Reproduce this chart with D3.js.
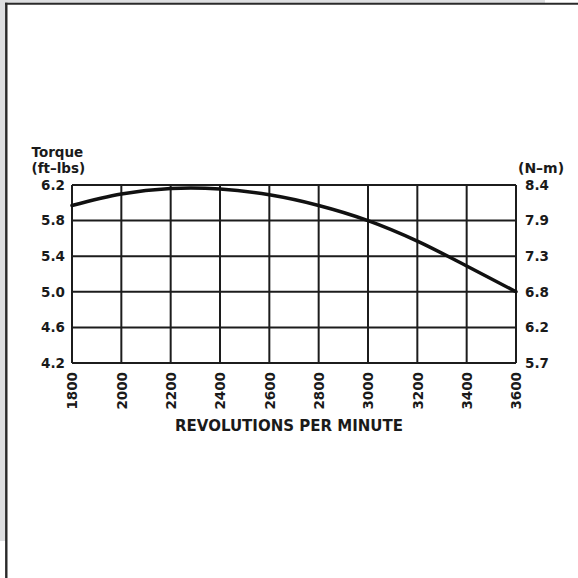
<!DOCTYPE html>
<html>
<head>
<meta charset="utf-8">
<style>
    html, body { margin: 0; padding: 0; background: #fff; }
    svg { display: block; }
    text { font-family: "DejaVu Sans", sans-serif; font-weight: bold; fill: #1a1a1a; }
</style>
</head>
<body>
<svg width="578" height="578"></svg>
<script src="https://cdnjs.cloudflare.com/ajax/libs/d3/7.8.5/d3.min.js"></script>
<script>

    // chart values
    var rpm = [1800, 2000, 2200, 2400, 2600, 2800, 3000, 3200, 3400, 3600];
    var torque = [5.97, 6.10, 6.16, 6.155, 6.09, 5.97, 5.80, 5.57, 5.29, 5.00];
    var ftLbTicks = [4.2, 4.6, 5.0, 5.4, 5.8, 6.2];
    var nmTickLabels = ["5.7", "6.2", "6.8", "7.3", "7.9", "8.4"];
    var rpmTicks = [1800, 2000, 2200, 2400, 2600, 2800, 3000, 3200, 3400, 3600];

    var svg = d3.select("svg"),
        ink = "#1c1c1c";

    // page frame: grey backdrop and the dark border of the sheet
    svg.append("rect").attr("x", 0).attr("y", 0).attr("width", 545).attr("height", 541).attr("fill", "#dedfe1");
    svg.append("rect").attr("x", 6).attr("y", 4).attr("width", 572).attr("height", 574).attr("fill", "#fff");
    svg.append("line").attr("x1", 6.3).attr("x2", 6.3).attr("y1", 2.7).attr("y2", 578)
        .attr("stroke", "#2a2a2a").attr("stroke-width", 2.4);
    svg.append("line").attr("x1", 5).attr("x2", 578).attr("y1", 3.7).attr("y2", 3.7)
        .attr("stroke", "#2a2a2a").attr("stroke-width", 2);

    var x = d3.scaleLinear().domain([1800, 3600]).range([72, 516]),
        y = d3.scaleLinear().domain([4.2, 6.2]).range([363, 185]);

    var g = svg.append("g");

    // grid
    g.append("g").selectAll("line")
        .data(rpmTicks)
        .enter().append("line")
        .attr("x1", function (d) { return x(d); })
        .attr("x2", function (d) { return x(d); })
        .attr("y1", y(6.2))
        .attr("y2", y(4.2))
        .attr("stroke", ink)
        .attr("stroke-width", 2);

    g.append("g").selectAll("line")
        .data(ftLbTicks)
        .enter().append("line")
        .attr("x1", x(1800))
        .attr("x2", x(3600))
        .attr("y1", function (d) { return y(d); })
        .attr("y2", function (d) { return y(d); })
        .attr("stroke", ink)
        .attr("stroke-width", 2);

    // left axis (ft-lbs)
    var left = g.append("g")
        .attr("transform", "translate(" + x(1800) + ",0)")
        .call(d3.axisLeft(y).tickValues(ftLbTicks).tickFormat(d3.format(".1f")).tickSize(0).tickPadding(7));
    left.select(".domain").remove();
    left.selectAll("text").attr("font-size", 13.5).attr("font-family", null).attr("fill", "#1a1a1a");

    // right axis (N-m), same grid positions
    var right = g.append("g")
        .attr("transform", "translate(" + x(3600) + ",0)")
        .call(d3.axisRight(y).tickValues(ftLbTicks).tickFormat(function (d, i) { return nmTickLabels[i]; })
            .tickSize(0).tickPadding(9));
    right.select(".domain").remove();
    right.selectAll("text").attr("font-size", 13.5).attr("font-family", null).attr("fill", "#1a1a1a");

    // bottom axis, rotated labels
    var bottom = g.append("g")
        .attr("transform", "translate(0," + y(4.2) + ")")
        .call(d3.axisBottom(x).tickValues(rpmTicks).tickFormat(d3.format("d")).tickSize(0));
    bottom.select(".domain").remove();
    bottom.selectAll("text")
        .attr("font-size", 13.5)
        .attr("font-family", null)
        .attr("fill", "#1a1a1a")
        .attr("transform", "rotate(-90)")
        .attr("text-anchor", "end")
        .attr("x", -9)
        .attr("y", 0)
        .attr("dy", "0.36em");

    // torque curve
    var line = d3.line()
        .x(function (d, i) { return x(rpm[i]); })
        .y(function (d) { return y(d); })
        .curve(d3.curveCatmullRom.alpha(0.5));

    g.append("path")
        .datum(torque)
        .attr("d", line)
        .attr("fill", "none")
        .attr("stroke", "#111")
        .attr("stroke-width", 3.5)
        .attr("stroke-linecap", "round");

    // titles
    g.append("text").attr("x", 31.5).attr("y", 157).attr("font-size", 13.5).text("Torque");
    g.append("text").attr("x", 31.5).attr("y", 173).attr("font-size", 13.5).text("(ft–lbs)");
    g.append("text").attr("x", 518).attr("y", 173).attr("font-size", 14).text("(N–m)");
    g.append("text").attr("x", 289).attr("y", 431).attr("font-size", 15)
        .attr("text-anchor", "middle").text("REVOLUTIONS PER MINUTE");

</script>
</body>
</html>
